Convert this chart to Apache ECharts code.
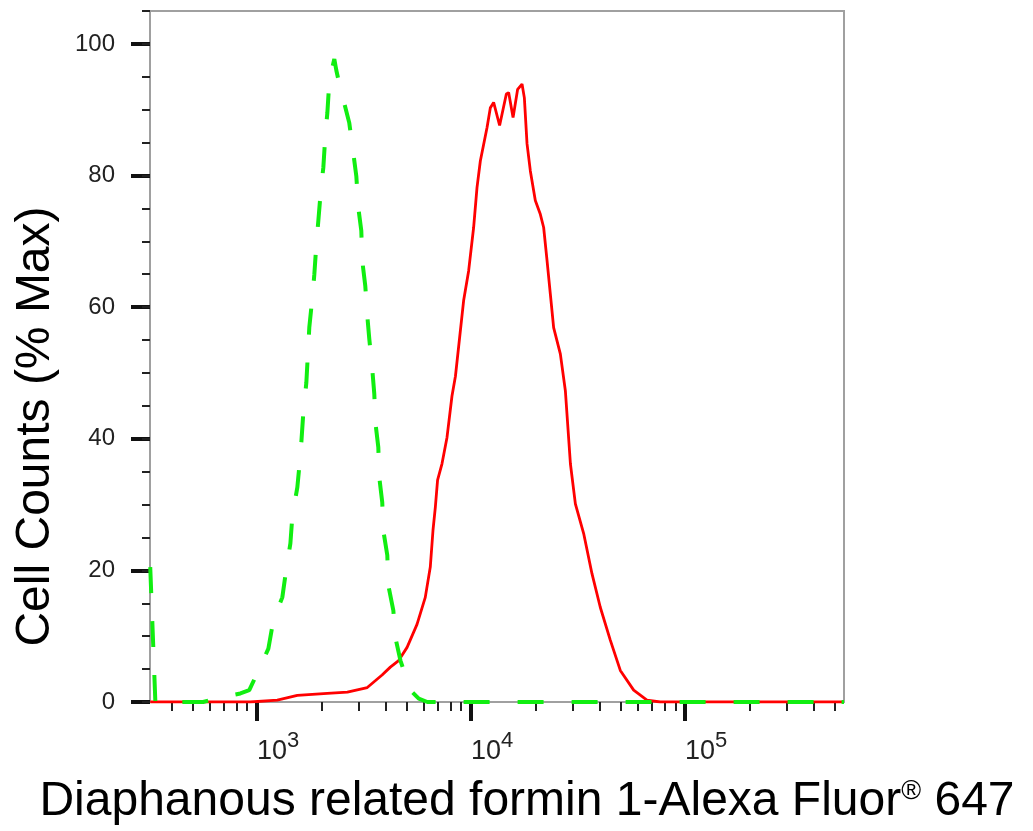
<!DOCTYPE html>
<html><head><meta charset="utf-8">
<script src="https://cdn.jsdelivr.net/npm/echarts@6/dist/echarts.min.js"></script>
<style>html,body{margin:0;padding:0;background:#fff}#c{width:1033px;height:831px}</style>
</head><body><div id="c"></div>
<script>
// ---- data (x = fluorescence intensity, y = % of max cell count) ----
const redSeries = [[317,0],[930,0],[1244,0.3],[1543,1.0],[2131,1.3],[2644,1.5],[3275,2.2],[3840,4.1],[4197,5.3],[4590,6.3],[5025,8.3],[5592,11.8],[6112,15.9],[6451,20.5],[6642,26.1],[6812,29.6],[6977,33.7],[7315,36.2],[7722,40.2],[8147,46.5],[8455,49.5],[9235,61.0],[9745,65.5],[10283,72.1],[10666,78.2],[11053,82.2],[11880,87.3],[12310,90.3],[12754,91.1],[13600,87.6],[14622,92.4],[14988,92.6],[15717,88.8],[16511,93.1],[17311,93.9],[17750,91.8],[18270,84.8],[18930,80.7],[19970,76.2],[21080,74.1],[21846,72.1],[22650,67.1],[23470,62.0],[24322,56.9],[26140,52.9],[27590,47.3],[29130,36.2],[30730,30.1],[33600,25.6],[36740,19.5],[40170,14.4],[44740,9.4],[49830,4.8],[57540,1.8],[66370,0.3],[76600,0],[553000,0]];
const greenSeries = [[317,20.5],[335,0],[560,0],[652,0.6],[836,1.3],[920,1.8],[1003,4.4],[1130,8.1],[1192,12.4],[1313,15.9],[1371,20.3],[1432,24.1],[1463,28.3],[1543,32.6],[1600,38],[1646,44],[1700,48.5],[1755,56.9],[1813,61.4],[1853,65],[1894,69.6],[1934,73.1],[1990,78],[2041,81.2],[2085,86],[2131,89.5],[2178,94.4],[2297,97.7],[2347,96],[2440,93.5],[2529,91.6],[2698,88],[2818,83.4],[2911,79.9],[2974,75.1],[3071,71.6],[3104,67],[3206,63.2],[3275,58.7],[3346,55.2],[3455,50.6],[3532,46.8],[3573,42.5],[3688,38.7],[3727,34.1],[3848,30.3],[3890,26.1],[4062,22.3],[4110,17.7],[4336,13.9],[4430,9.8],[4680,6.3],[5203,1.8],[5700,0.5],[6250,0],[553000,0]];
const xMajorTicks = [1000, 10000, 100000];
const xMinorTicks = [400,500,600,700,800,900,2000,3000,4000,5000,6000,7000,8000,9000,20000,30000,40000,50000,60000,70000,80000,90000,200000,300000,400000,500000];
const yMajorTicks = [0, 20, 40, 60, 80, 100];
const xRange = [316.2, 553000];
const yRange = [0, 105];
const xTitle = 'Diaphanous related formin 1-Alexa Fluor{r|®} 647';
const yTitle = 'Cell Counts (% Max)';

const FONT = '"Liberation Sans", Arial, sans-serif';
const L = v => Math.log10(v);
const toLog = arr => arr.map(p => [L(p[0]), p[1]]);

const chart = echarts.init(document.getElementById('c'), null, {renderer: 'canvas'});
const xCommon = {type: 'value', min: L(xRange[0]), max: L(xRange[1]), position: 'bottom', splitLine: {show: false}};
const yCommon = {type: 'value', min: yRange[0], max: yRange[1], position: 'left', splitLine: {show: false}};
chart.setOption({
  animation: false,
  backgroundColor: '#fff',
  grid: {left: 150, right: 189, top: 11, bottom: 129, show: true, borderColor: '#a0a0a0', borderWidth: 2, containLabel: false, outerBoundsMode: 'none'},
  xAxis: [
    Object.assign({}, xCommon, {
      axisLine: {show: true, onZero: false, lineStyle: {color: '#a0a0a0', width: 2}},
      axisTick: {show: true, customValues: xMajorTicks.map(L), length: 19, lineStyle: {color: '#111', width: 4}},
      axisLabel: {show: true, customValues: xMajorTicks.map(L), align: 'left', margin: 28,
        formatter: v => '{b|10}{s|' + Math.round(v) + '}',
        rich: {
          b: {fontSize: 27, fontFamily: FONT, color: '#222', verticalAlign: 'bottom'},
          s: {fontSize: 22, fontFamily: FONT, color: '#222', verticalAlign: 'bottom', padding: [0, 0, 13, 0]}
        }},
      name: xTitle, nameLocation: 'middle', nameGap: 76,
      nameTextStyle: {fontSize: 48, fontFamily: FONT, color: '#000', padding: [0, 0, 0, 60],
        rich: {r: {fontSize: 27, fontFamily: FONT, color: '#000', verticalAlign: 'top', padding: [0, 0, 18, 0]}}}
    }),
    Object.assign({}, xCommon, {
      axisLine: {show: false, onZero: false},
      axisTick: {show: true, customValues: xMinorTicks.map(L), length: 9, lineStyle: {color: '#222', width: 2}},
      axisLabel: {show: false}
    })
  ],
  yAxis: [
    Object.assign({}, yCommon, {
      axisLine: {show: true, onZero: false, lineStyle: {color: '#a0a0a0', width: 2}},
      axisTick: {show: true, customValues: yMajorTicks, length: 19, lineStyle: {color: '#111', width: 4}},
      axisLabel: {show: true, customValues: yMajorTicks, margin: 35, fontSize: 24, fontFamily: FONT, color: '#222'},
      name: yTitle, nameLocation: 'middle', nameGap: 90,
      nameTextStyle: {fontSize: 48, fontFamily: FONT, color: '#000', padding: [0, 140, 0, 0]}
    }),
    Object.assign({}, yCommon, {
      interval: 5,
      axisLine: {show: false, onZero: false},
      axisTick: {show: true, length: 8, lineStyle: {color: '#222', width: 2}},
      axisLabel: {show: false}
    })
  ],
  series: [
    {type: 'line', name: 'antibody', xAxisIndex: 0, yAxisIndex: 0, data: toLog(redSeries), showSymbol: false, symbol: 'none',
      lineStyle: {color: '#ff0000', width: 2.8}, z: 2},
    {type: 'line', name: 'control', xAxisIndex: 0, yAxisIndex: 0, data: toLog(greenSeries), showSymbol: false, symbol: 'none',
      lineStyle: {color: '#11ee11', width: 4, type: [26, 28], cap: 'butt'}, z: 3}
  ]
});
</script></body></html>
